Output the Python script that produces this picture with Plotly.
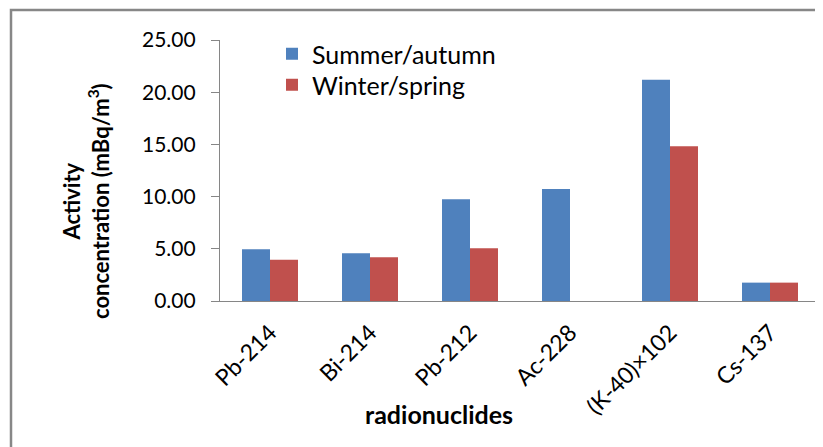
import plotly.graph_objects as go

categories = ["Pb-214", "Bi-214", "Pb-212", "Ac-228", "(K-40)×102", "Cs-137"]
summer_autumn = [4.95, 4.57, 9.74, 10.73, 21.2, 1.76]
winter_spring = [3.95, 4.19, 5.05, None, 14.82, 1.76]
y_ticks = [0, 5, 10, 15, 20, 25]
y_tick_labels = ["0.00", "5.00", "10.00", "15.00", "20.00", "25.00"]

FONT = "Lato"
W, H = 823, 447
OFF = 8  # page body margin
# target plot area on the page: x 220..820, y 40..301
L, T = 220 - OFF, 40 - OFF
pw, ph = 600, 261
R, B = W - L - pw, H - T - ph

def px_x(px):  # page pixel -> paper x
    return (px - OFF - L) / pw

def px_y(py):  # page pixel -> paper y
    return (T + ph - (py - OFF)) / ph

fig = go.Figure()
fig.add_trace(go.Bar(name="Summer/autumn", x=categories, y=summer_autumn, legend="legend",
                     marker=dict(color="#4F81BD", line=dict(width=0))))
fig.add_trace(go.Bar(name="Winter/spring", x=categories, y=winter_spring, legend="legend2",
                     marker=dict(color="#C0504D", line=dict(width=0))))

leg_common = dict(xanchor="left", yanchor="top", bgcolor="rgba(0,0,0,0)",
                  font=dict(size=25, family=FONT, color="black"), itemwidth=30)
fig.update_layout(
    width=W, height=H,
    margin=dict(l=L, r=R, t=T, b=B, pad=0, autoexpand=False),
    paper_bgcolor="white", plot_bgcolor="white",
    barmode="group", bargap=0.44, bargroupgap=0,
    font=dict(family=FONT, color="black", size=20),
    legend=dict(x=px_x(272), y=px_y(31), **leg_common),
    legend2=dict(x=px_x(272), y=px_y(62), **leg_common),
    showlegend=True,
)
fig.update_xaxes(
    showline=True, linecolor="#868686", linewidth=1.2,
    ticks="", tickangle=-45, tickfont=dict(size=23, family=FONT, color="black"),
    ticklabelstandoff=8, automargin=False,
    showgrid=False, range=[-0.5, 5.5],
)
fig.update_yaxes(
    showline=True, linecolor="#868686", linewidth=1.2,
    ticks="outside", ticklen=8, tickcolor="#868686", tickwidth=1.2,
    tickvals=y_ticks, ticktext=y_tick_labels, tickfont=dict(size=21, family=FONT, color="black"),
    ticklabelstandoff=11, automargin=False,
    range=[0, 25], showgrid=False, zeroline=False,
)
# axis titles
fig.add_annotation(text="<b>Activity<br>concentration (mBq/m<sup>3</sup>)</b>",
                   xref="paper", yref="paper", x=px_x(86), y=px_y(201),
                   xanchor="center", yanchor="middle", textangle=-90, showarrow=False,
                   font=dict(size=22, family=FONT, color="black"), align="center")
fig.add_annotation(text="<b>radionuclides</b>",
                   xref="paper", yref="paper", x=px_x(439), y=px_y(414),
                   xanchor="center", yanchor="middle", showarrow=False,
                   font=dict(size=25, family=FONT, color="black"))
# outer chart frame
fig.add_shape(type="rect", xref="paper", yref="paper",
              x0=px_x(11), x1=px_x(W + 20),
              y0=px_y(H + 20), y1=px_y(10),
              line=dict(color="#878787", width=2.5), layer="below")
fig.write_html("out.html")
